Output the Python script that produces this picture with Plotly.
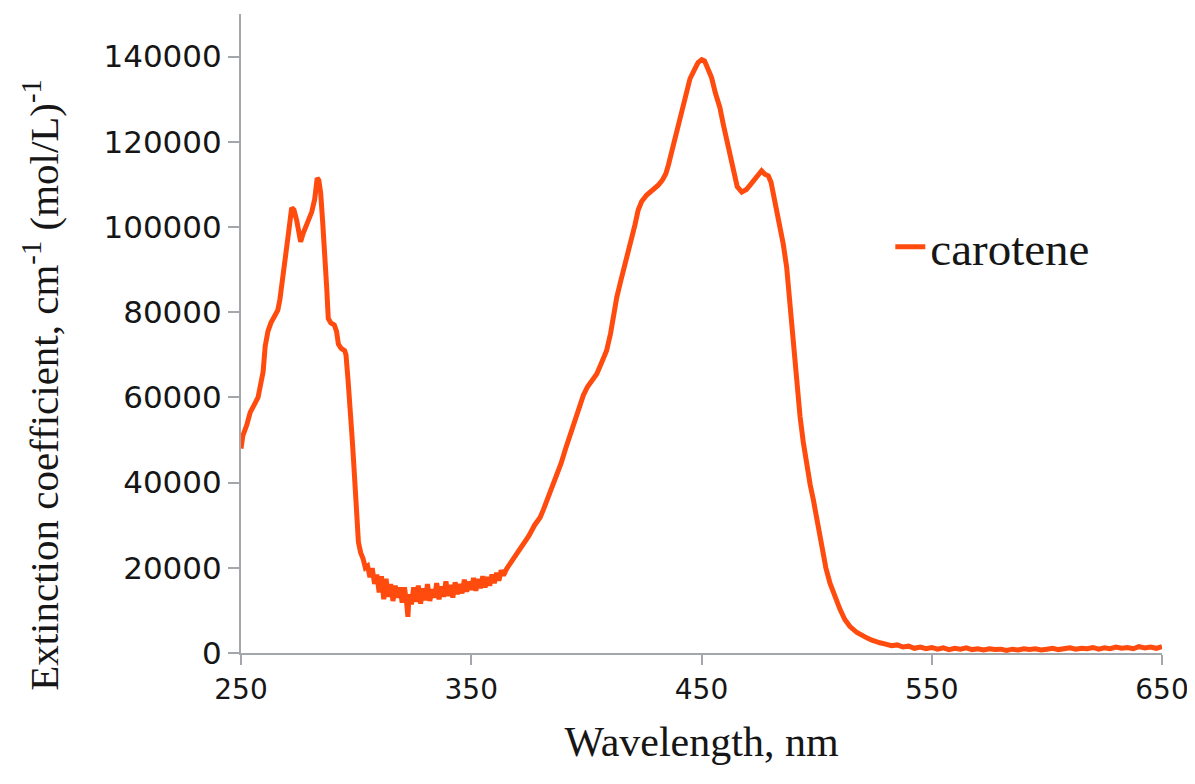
import plotly.graph_objects as go

series_name = "carotene"

wavelength_nm = [
    250.0, 250.8, 252.5, 254.0, 255.5, 257.4, 258.5, 259.6, 260.5, 261.7,
    263.0, 264.8, 266.0, 266.9, 268.0, 269.1, 270.5, 272.0, 273.0, 274.2,
    275.3, 275.9, 277.0, 278.5, 280.7, 282.0, 283.1, 283.8, 284.6, 285.5,
    286.5, 287.3, 287.9, 289.0, 290.5, 291.5, 292.3, 293.5, 295.0, 295.6,
    296.5, 297.3, 298.2, 298.8, 299.5, 300.2, 301.0, 302.0,
    303.0, 304.0, 305.0, 306.0, 307.0, 308.0, 309.0, 310.0, 311.0, 312.0,
    313.0, 314.0, 315.0, 316.0, 317.0, 318.0, 319.0, 320.0, 321.0, 322.0,
    322.5, 323.0, 324.0, 325.0, 326.0, 327.0, 328.0, 329.0, 330.0, 331.0,
    332.0, 333.0, 334.0, 335.0, 336.0, 337.0, 338.0, 339.0, 340.0, 341.0,
    342.0, 343.0, 344.0, 345.0, 346.0, 347.0, 348.0, 349.0, 350.0, 351.0,
    352.0, 353.0, 354.0, 355.0, 356.0, 357.0, 358.0, 359.0, 360.0, 361.0,
    362.0, 363.0, 364.0, 365.4, 367.0, 369.0, 370.7, 372.6, 375.0, 377.5,
    379.9, 381.3, 383.0, 385.0, 387.1, 389.0, 391.0, 392.9, 395.0, 396.8,
    398.7, 400.5, 402.5, 404.5, 406.5, 408.8, 410.5, 412.0, 413.2, 415.0,
    417.5, 419.5, 421.1, 422.5, 424.0, 426.2, 428.5, 431.2, 433.0, 434.5,
    435.6, 437.0, 438.5, 440.0, 441.4, 443.0, 445.0, 447.0, 448.5, 450.1,
    451.3, 452.5, 454.4, 456.0, 458.0, 459.5, 461.0, 462.5, 463.8, 465.5,
    467.5, 469.5, 471.8, 474.0, 476.1, 477.5, 479.0, 480.2, 481.2, 482.5,
    484.1, 485.5, 487.0, 488.5, 489.9, 491.3, 492.8, 494.2, 495.7, 497.2,
    498.6, 500.4, 502.2, 504.0, 505.8, 508.0, 510.2, 512.3, 514.5, 517.5,
    520.3, 522.0, 524.0, 526.0, 527.5, 530.0, 532.5, 535.0, 537.5, 540.0,
    542.5, 545.0, 547.5, 550.0, 552.5, 555.0, 557.5, 560.0, 562.5, 565.0,
    567.5, 570.0, 572.5, 575.0, 577.5, 580.0, 582.5, 585.0, 587.5, 590.0,
    592.5, 595.0, 597.5, 600.0, 602.5, 605.0, 607.5, 610.0, 612.5, 615.0,
    617.5, 620.0, 622.5, 625.0, 627.5, 630.0, 632.5, 635.0, 637.5, 640.0,
    642.5, 645.0, 647.5, 650.0,
]

extinction = [
    48000, 51000, 53500, 56500, 58000, 60000, 63000, 66000, 72000, 75500,
    77500, 79500, 80500, 83000, 87000, 92000, 98000, 104500, 104000, 101500,
    97500, 96500, 98500, 100500, 103500, 106500, 111500, 111000, 108000, 101000,
    94000, 85000, 78500, 77500, 77000, 75500, 72500, 71500, 71000, 70000,
    64000, 59000, 51000, 46000, 38000, 30000, 26000, 23500,
    22200, 20000, 20400, 17800, 19900, 16200, 18400, 14200, 18000, 12600,
    17400, 13200, 16200, 12200, 15800, 13000, 15400, 11800, 15400, 11400,
    8500, 13800, 11400, 15400, 12000, 15800, 11600, 15200, 12400, 16200,
    12200, 15000, 13000, 16400, 12600, 15600, 13200, 16800, 13400, 16000,
    13000, 16600, 13800, 16200, 14000, 17200, 14400, 16800, 14800, 17600,
    14600, 17400, 15200, 18000, 15400, 17800, 15800, 18400, 16400, 18800,
    17000, 19400, 18200, 19800, 21000, 22500, 23800, 25500, 27500, 30000,
    31800, 33600, 36000, 38500, 41000, 44500, 48000, 51000, 55000, 58000,
    60500, 62500, 64000, 65500, 68000, 71000, 75000, 80000, 83500, 87500,
    92500, 96500, 100500, 104000, 106000, 107500, 108500, 109800, 111000, 112500,
    114500, 117500, 120500, 124000, 127000, 131000, 134800, 137000, 138600, 139300,
    139000, 137500, 135000, 131500, 128000, 124000, 120500, 116000, 112700, 109500,
    108200, 108800, 110300, 111800, 113200, 112400, 112000, 110500, 108000, 104500,
    100500, 96000, 90500, 81000, 71500, 63000, 55500, 49500, 43800, 39500,
    35900, 30000, 24500, 20000, 16400, 13000, 10200, 7800, 6200, 4800,
    3800, 3500, 3000, 2800, 2400, 2100, 1700, 1900, 1400, 1600,
    1100, 1400, 1000, 1300, 900, 1200, 800, 1100, 900, 1200,
    800, 1000, 700, 1000, 800, 900, 600, 900, 700, 1000,
    800, 1000, 700, 900, 1100, 800, 1000, 1200, 900, 1100,
    1000, 1300, 900, 1200, 1000, 1400, 1100, 1300, 1000, 1500,
    1200, 1400, 1100, 1500,
]

x_tick_values = [250, 350, 450, 550, 650]
y_tick_values = [0, 20000, 40000, 60000, 80000, 100000, 120000, 140000]

x_title = "Wavelength, nm"
y_title = "Extinction coefficient, cm<sup>-1</sup> (mol/L)<sup>-1</sup>"

line_color = "#FF4B0E"
axis_color = "#A3A7AB"
text_color = "#161616"

fig = go.Figure()
fig.add_trace(go.Scatter(
    x=wavelength_nm, y=extinction, mode="lines", name=series_name,
    line=dict(color=line_color, width=5),
))

fig.update_layout(
    width=1187, height=760,
    paper_bgcolor="white", plot_bgcolor="white",
    margin=dict(l=233, r=33, t=6, b=115, autoexpand=False),
    showlegend=True,
    legend=dict(
        x=0.705, y=0.635, xanchor="left", yanchor="middle",
        font=dict(family="Liberation Serif", size=47, color=text_color),
        bgcolor="rgba(0,0,0,0)", itemwidth=30,
    ),
    annotations=[dict(
        text=y_title, textangle=-90, showarrow=False,
        xref="paper", yref="paper", x=-0.218, y=0.42,
        xanchor="center", yanchor="middle",
        font=dict(family="Liberation Serif", size=41, color=text_color),
    )],
)

fig.update_xaxes(
    range=[250, 650], tickvals=x_tick_values, ticktext=[str(v) for v in x_tick_values],
    showline=True, linecolor=axis_color, linewidth=2,
    ticks="outside", ticklen=10, tickwidth=2, tickcolor=axis_color,
    showgrid=False, zeroline=False,
    tickfont=dict(family="DejaVu Sans", size=28, color=text_color),
    title=dict(text=x_title, font=dict(family="Liberation Serif", size=42, color=text_color), standoff=22),
)
fig.update_yaxes(
    range=[0, 150000], tickvals=y_tick_values, ticktext=[str(v) for v in y_tick_values],
    showline=True, linecolor=axis_color, linewidth=2,
    ticks="outside", ticklen=11, tickwidth=2, tickcolor=axis_color,
    showgrid=False, zeroline=False,
    tickfont=dict(family="DejaVu Sans", size=31, color=text_color),
)

fig.write_html("out.html")
